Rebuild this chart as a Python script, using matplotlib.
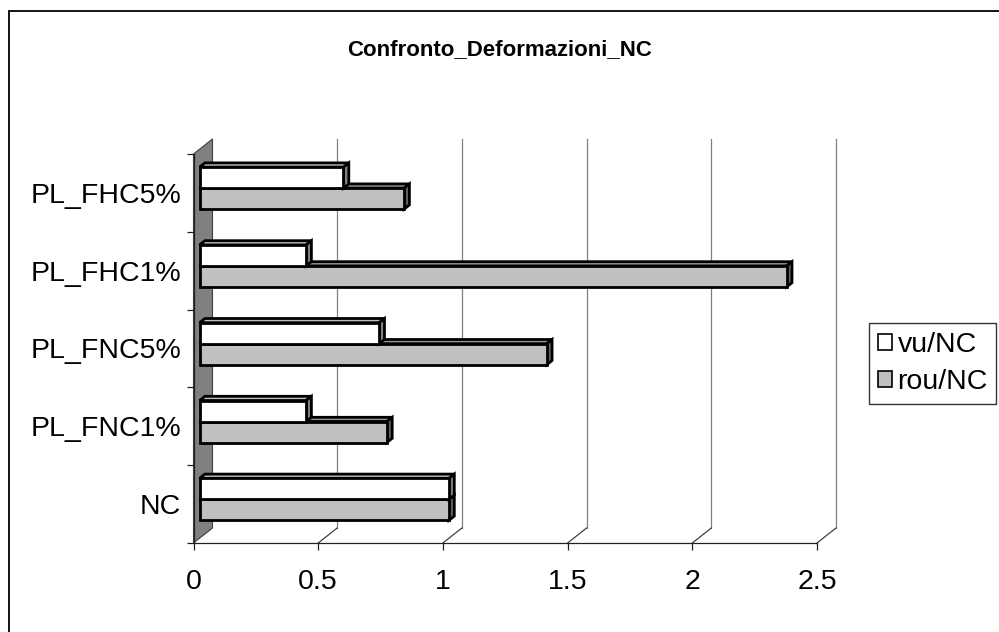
import matplotlib
matplotlib.use("Agg")
import matplotlib.pyplot as plt
from matplotlib.patches import Polygon, Rectangle, Patch

plt.rcParams['font.family'] = ['Liberation Sans', 'DejaVu Sans']

# ---------------------------------------------- data ------------------------------------------------ #
categories = ['NC', 'PL_FNC1%', 'PL_FNC5%', 'PL_FHC1%', 'PL_FHC5%']
vu_nc = [1.0, 0.427, 0.72, 0.427, 0.577]
rou_nc = [1.0, 0.751, 1.392, 2.354, 0.82]
series_names = ['vu/NC', 'rou/NC']
x_ticks = [0, 0.5, 1, 1.5, 2, 2.5]
x_ticklabels = ['0', '0.5', '1', '1.5', '2', '2.5']

# ---------------------------------------------- figure ---------------------------------------------- #
W, H = 999, 632
fig = plt.figure(figsize=(W / 100, H / 100), dpi=100)
fig.patch.set_facecolor('white')

# front plane of the 3d box, in pixels
x0_px, x1_px = 193.5, 817.0
ytop_px, ybot_px = 154.0, 543.0
ax = fig.add_axes([x0_px / W, (H - ybot_px) / H, (x1_px - x0_px) / W, (ybot_px - ytop_px) / H])
ax.set_xlim(0, 2.5)
ax.set_ylim(0, len(categories))
ax.patch.set_alpha(0)

px_x = (x1_px - x0_px) / 2.5
px_y = (ybot_px - ytop_px) / len(categories)
# depth of the box (oblique projection), pixels -> data units
ddx = 19 / px_x
ddy = 15 / px_y

# side wall
wall = Polygon([(0, 0), (0, 5), (ddx, 5 + ddy), (ddx, ddy)], closed=True,
               facecolor='#808080', edgecolor='#404040', lw=0.8, clip_on=False, zorder=1)
ax.add_patch(wall)

# back gridlines and floor lines
for v in x_ticks[1:]:
    ax.plot([v + ddx, v + ddx], [ddy, 5 + ddy], color='#808080', lw=0.9, clip_on=False, zorder=1)
    ax.plot([v, v + ddx], [0, ddy], color='#404040', lw=0.9, clip_on=False, zorder=1)

# bars
f0, f1 = 0.32, 0.60
bar_h = 21 / px_y
front_fill = ['white', '#C0C0C0']
top_fill = ['#BDBDBD', '#969696']
side_fill = ['#808080', '#606060']
z = 3


def draw_bar(v, y0, y1, k):
    global z
    fx, fy = f0 * ddx, f0 * ddy
    bx, by = f1 * ddx, f1 * ddy
    kw = dict(closed=True, edgecolor='black', lw=2.0, joinstyle='miter', clip_on=False)
    top = Polygon([(fx, y1 + fy), (v + fx, y1 + fy), (v + bx, y1 + by), (bx, y1 + by)],
                  facecolor=top_fill[k], zorder=z, **kw)
    side = Polygon([(v + fx, y0 + fy), (v + fx, y1 + fy), (v + bx, y1 + by), (v + bx, y0 + by)],
                   facecolor=side_fill[k], zorder=z, **kw)
    front = Polygon([(fx, y0 + fy), (v + fx, y0 + fy), (v + fx, y1 + fy), (fx, y1 + fy)],
                    facecolor=front_fill[k], zorder=z + 0.5, **kw)
    ax.add_patch(top)
    ax.add_patch(side)
    ax.add_patch(front)
    z += 1


for i in range(len(categories)):
    c = i + 0.5
    draw_bar(rou_nc[i], c - bar_h, c, 1)
    draw_bar(vu_nc[i], c, c + bar_h, 0)

# axes lines / ticks
for s in ['top', 'right']:
    ax.spines[s].set_visible(False)
for s in ['left', 'bottom']:
    ax.spines[s].set_color('#202020')
    ax.spines[s].set_linewidth(0.9)
    ax.spines[s].set_zorder(2)
ax.set_xticks(x_ticks)
ax.set_xticklabels(x_ticklabels, fontsize=20.5)
ax.set_yticks(range(len(categories) + 1))
ax.set_yticklabels([])
ax.set_yticks([i + 0.5 for i in range(len(categories))], minor=True)
ax.set_yticklabels(categories, minor=True, fontsize=20.5)
ax.tick_params(axis='x', direction='out', length=5, width=0.9, color='#202020', pad=14)
ax.tick_params(axis='y', which='major', direction='out', length=5, width=0.9, color='#202020')
ax.tick_params(axis='y', which='minor', length=0, pad=9)

# title
fig.text(0.5, 1 - 50 / H, 'Confronto_Deformazioni_NC', ha='center', va='center',
         fontsize=16, fontweight='bold')

# legend
handles = [Patch(facecolor=front_fill[k], edgecolor='black', lw=1.2) for k in range(2)]
leg = fig.legend(handles, series_names, loc='center left', bbox_to_anchor=(869 / W, 1 - 363.5 / H),
                 fontsize=20.5, frameon=True, fancybox=False, handlelength=0.5, handleheight=0.5,
                 handletextpad=0.2, borderpad=0.3, labelspacing=0.4, borderaxespad=0)
leg.get_frame().set_edgecolor('black')
leg.get_frame().set_linewidth(1.0)

# chart area border
fig.add_artist(Rectangle((9 / W, -0.1), 1.2, 1.1 - 11 / H, transform=fig.transFigure,
                         facecolor='none', edgecolor='black', lw=1.3))

fig.savefig('out.png', dpi=100)
